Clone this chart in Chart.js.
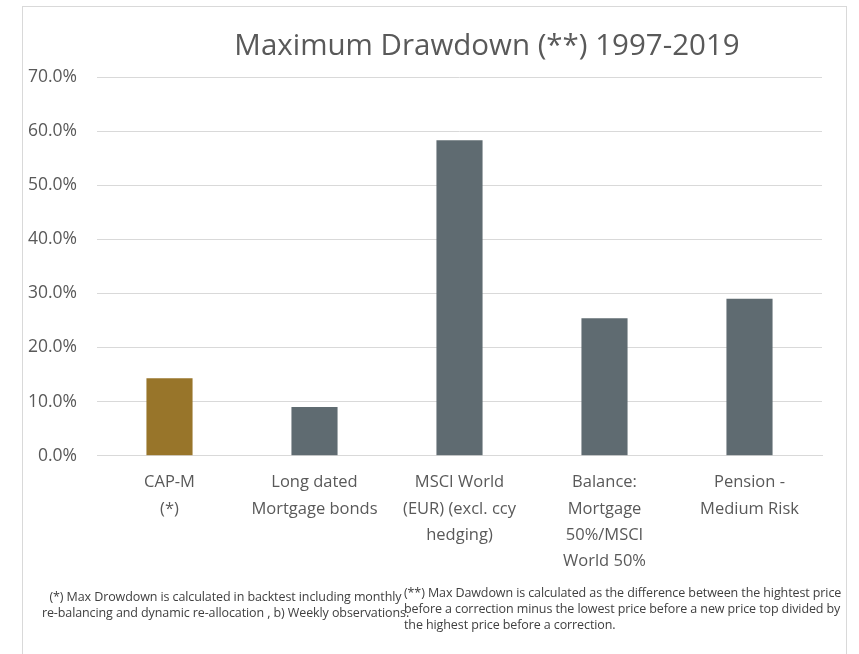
<!DOCTYPE html>
<html>
<head>
<meta charset="utf-8">
<script src="https://cdn.jsdelivr.net/npm/chart.js@4"></script>
<style>
  body { margin: 0; background: #fff; }
  #wrap { position: relative; width: 859px; height: 654px; }
  #frame { position: absolute; left: 22px; top: 6px; width: 825px; height: 660px; border: 1px solid #d9d9d9; box-sizing: border-box; }
  canvas { position: absolute; left: 0; top: 0; }
  .note { position: absolute; font-family: "Open Sans", sans-serif; font-size: 12.5px; color: #404040; line-height: 16px; white-space: nowrap; letter-spacing: -0.1px; }
  #note1 { left: 28px; top: 589px; text-align: center; width: 395px; }
  #note2 { left: 404px; top: 585px; }
</style>
</head>
<body>
<div id="wrap">
  <div id="frame"></div>
  <canvas id="myChart" width="859" height="654"></canvas>
  <div class="note" id="note1">(*) Max Drowdown is calculated in backtest including monthly<br>re-balancing and dynamic re-allocation , b) Weekly observations.</div>
  <div class="note" id="note2">(**) Max Dawdown is calculated as the difference between the hightest price<br>before a correction minus the lowest price before a new price top divided by<br>the highest price before a correction.</div>
</div>
<script>
const categories = [
  ["CAP-M", "(*)"],
  ["Long dated", "Mortgage bonds"],
  ["MSCI World", "(EUR) (excl. ccy", "hedging)"],
  ["Balance:", "Mortgage", "50%/MSCI", "World 50%"],
  ["Pension -", "Medium Risk"]
];
const drawdown = [0.143, 0.090, 0.583, 0.254, 0.290];
const barColors = ["#98752a", "#5f6b71", "#5f6b71", "#5f6b71", "#5f6b71"];
const titleText = "Maximum Drawdown (**) 1997-2019";

// title sits a bit right of the plot centre, so draw it by hand
const titlePlugin = {
  id: 'offsetTitle',
  afterDraw(chart) {
    const ctx = chart.ctx;
    ctx.save();
    ctx.font = '29.5px "Open Sans", sans-serif';
    ctx.fillStyle = '#595959';
    ctx.textAlign = 'center';
    ctx.textBaseline = 'middle';
    ctx.fillText(titleText, 487, 47, 508);
    ctx.restore();
  }
};

const config = {
  type: 'bar',
  data: {
    labels: categories,
    datasets: [{
      data: drawdown,
      backgroundColor: barColors,
      barPercentage: 0.53,
      categoryPercentage: 0.6
    }]
  },
  options: {
    responsive: false,
    animation: false,
    layout: { padding: { left: 25, right: 37, top: 77, bottom: 66 } },
    plugins: {
      legend: { display: false },
      tooltip: { enabled: false }
    },
    scales: {
      x: {
        grid: { display: false, drawTicks: false },
        border: { color: '#d9d9d9', width: 1 },
        ticks: {
          color: '#595959',
          font: { family: 'Open Sans', size: 16.5, lineHeight: 1.58 },
          padding: 14,
          maxRotation: 0,
          autoSkip: false
        }
      },
      y: {
        min: 0,
        max: 0.7,
        border: { display: false },
        grid: { color: '#d9d9d9', drawTicks: false },
        afterFit(scale) { scale.width = 72; },
        ticks: {
          stepSize: 0.1,
          color: '#595959',
          padding: 20,
          font: { family: 'Open Sans', size: 17.5 },
          callback: v => (v * 100).toFixed(1) + '%'
        }
      }
    }
  },
  plugins: [titlePlugin]
};

const myChart = new Chart(document.getElementById('myChart'), config);
</script>
</body>
</html>
